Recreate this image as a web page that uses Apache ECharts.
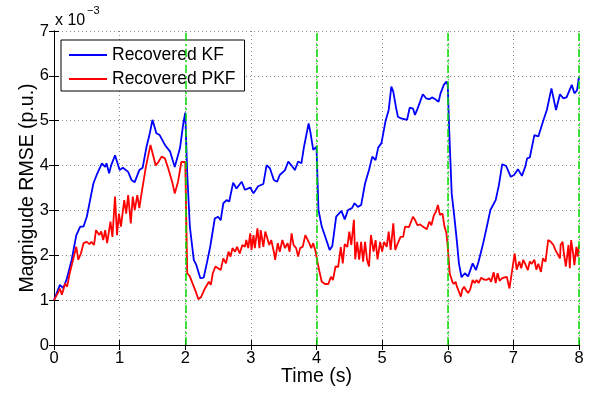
<!DOCTYPE html>
<html>
<head>
<meta charset="utf-8">
<script src="https://cdn.jsdelivr.net/npm/echarts@6/dist/echarts.min.js"></script>
<style>
  html, body { margin: 0; padding: 0; background: #fff; }
  #chart { width: 595px; height: 393px; }
</style>
</head>
<body>
<div id="chart"></div>
<script>
// values in units of 1e-3 p.u., [time (s), rmse]
var kfData = [
  [0,1.0],[0.09,1.34],[0.14,1.27],[0.19,1.45],[0.27,1.9],[0.34,2.45],[0.40,2.64],[0.45,2.64],[0.50,2.86],[0.55,3.23],
  [0.60,3.6],[0.65,3.79],[0.73,4.05],[0.78,3.97],[0.80,4.05],[0.84,3.83],[0.87,4.0],[0.93,4.23],[1.0,3.9],[1.05,3.95],
  [1.13,3.86],[1.18,3.68],[1.23,3.63],[1.26,3.65],[1.30,3.9],[1.35,3.95],[1.41,4.42],[1.46,4.72],[1.50,5.02],[1.56,4.72],
  [1.61,4.68],[1.69,4.46],[1.77,4.31],[1.84,3.97],[1.92,4.39],[1.97,4.94],[2.0,5.18],
  [2.03,3.83],[2.07,2.64],[2.13,1.9],[2.17,1.78],[2.23,1.49],[2.28,1.5],[2.33,1.83],[2.38,2.19],[2.41,2.23],[2.45,2.82],
  [2.50,2.86],[2.54,2.78],[2.58,3.16],[2.63,3.23],[2.67,3.2],[2.73,3.62],[2.78,3.49],[2.86,3.64],[2.91,3.46],[2.99,3.51],
  [3.04,3.38],[3.11,3.54],[3.19,3.59],[3.24,4.01],[3.29,3.94],[3.35,3.68],[3.40,3.64],[3.44,3.79],[3.52,3.9],[3.57,4.09],
  [3.62,4.0],[3.67,3.9],[3.72,4.09],[3.77,4.05],[3.81,4.42],[3.88,4.94],[3.91,4.72],[3.95,4.35],[4.0,4.42],
  [4.03,3.01],[4.08,2.64],[4.15,2.34],[4.20,2.12],[4.24,2.2],[4.30,2.86],[4.38,2.99],[4.43,2.8],[4.48,3.01],[4.54,3.05],
  [4.58,3.16],[4.63,3.08],[4.68,3.12],[4.74,3.6],[4.80,3.9],[4.85,4.2],[4.90,4.12],[4.94,4.4],[4.99,4.5],[5.05,4.98],
  [5.10,5.24],[5.14,5.76],[5.17,5.65],[5.21,5.31],[5.24,5.09],[5.29,5.05],[5.38,5.02],[5.42,5.29],[5.47,5.27],[5.50,5.13],
  [5.54,5.27],[5.57,5.31],[5.62,5.59],[5.67,5.5],[5.72,5.48],[5.76,5.52],[5.81,5.48],[5.86,5.42],[5.89,5.61],[5.94,5.8],
  [5.98,5.87],[6.0,5.8],
  [6.02,4.87],[6.06,3.38],[6.10,2.86],[6.14,2.3],[6.17,1.82],[6.21,1.51],[6.26,1.6],[6.31,1.53],[6.38,1.82],[6.43,1.67],
  [6.47,1.86],[6.54,2.27],[6.59,2.6],[6.65,3.01],[6.73,3.23],[6.78,3.57],[6.83,4.03],[6.89,3.99],[6.96,3.75],[7.01,3.79],
  [7.07,3.92],[7.13,3.77],[7.18,3.97],[7.21,4.16],[7.25,4.18],[7.32,4.68],[7.38,4.65],[7.46,5.02],[7.51,5.24],[7.58,5.72],
  [7.65,5.24],[7.71,5.59],[7.76,5.5],[7.81,5.52],[7.84,5.52],[7.89,5.8],[7.93,5.61],[7.97,5.68],[8.0,5.98]
];

var pkfData = [
  [0,1.0],[0.07,1.19],[0.09,1.26],[0.12,1.12],[0.17,1.37],[0.20,1.3],[0.24,1.6],[0.29,1.9],[0.34,2.19],[0.37,1.9],
  [0.41,2.04],[0.45,2.27],[0.50,2.3],[0.54,2.25],[0.57,2.3],[0.61,2.23],[0.64,2.56],[0.69,2.45],[0.72,2.53],[0.75,2.34],
  [0.78,2.56],[0.81,2.27],[0.86,2.75],[0.89,2.41],[0.93,3.31],[0.96,2.45],[0.99,2.93],[1.02,2.64],[1.07,3.23],[1.10,2.93],
  [1.13,3.34],[1.17,2.71],[1.20,3.31],[1.23,3.01],[1.27,3.34],[1.30,3.05],[1.33,3.34],[1.36,3.38],[1.40,3.97],[1.43,3.97],
  [1.47,4.46],[1.51,4.23],[1.55,4.0],[1.59,4.08],[1.64,4.2],[1.69,4.16],[1.74,3.94],[1.77,3.97],[1.80,3.64],[1.84,3.38],
  [1.89,3.64],[1.94,4.08],[1.97,4.12],[2.0,4.08],
  [2.03,1.6],[2.07,1.53],[2.12,1.34],[2.16,1.19],[2.20,1.02],[2.24,1.07],[2.27,1.06],[2.30,1.26],[2.33,1.22],[2.36,1.41],
  [2.39,1.34],[2.42,1.6],[2.46,1.75],[2.50,1.71],[2.54,1.67],[2.58,1.93],[2.62,1.82],[2.66,2.08],[2.69,1.97],[2.72,2.16],
  [2.76,2.08],[2.79,2.19],[2.83,2.04],[2.87,2.23],[2.91,2.19],[2.93,2.34],[2.96,2.16],[2.99,2.49],[3.01,2.12],[3.04,2.45],
  [3.06,2.16],[3.10,2.6],[3.13,2.16],[3.15,2.56],[3.19,2.19],[3.22,2.53],[3.25,2.38],[3.28,2.23],[3.31,2.34],[3.35,2.08],
  [3.37,1.9],[3.41,2.27],[3.44,2.08],[3.48,2.34],[3.52,2.16],[3.56,2.27],[3.59,2.08],[3.62,2.49],[3.65,2.23],[3.69,2.16],
  [3.72,1.97],[3.75,2.16],[3.79,2.19],[3.83,2.45],[3.85,2.49],[3.89,2.27],[3.92,2.16],[3.95,2.27],[3.98,2.12],[4.0,1.97],
  [4.04,1.67],[4.08,1.41],[4.13,1.36],[4.18,1.36],[4.22,1.52],[4.25,1.45],[4.29,1.75],[4.33,1.74],[4.37,2.18],[4.40,1.82],
  [4.43,2.25],[4.47,2.19],[4.50,2.53],[4.53,2.23],[4.57,2.79],[4.59,1.91],[4.62,2.3],[4.65,1.9],[4.68,2.3],[4.71,1.86],
  [4.74,2.3],[4.77,1.9],[4.80,1.75],[4.83,2.45],[4.87,2.08],[4.90,2.34],[4.93,1.91],[4.97,2.3],[5.0,2.08],[5.03,2.3],
  [5.07,2.19],[5.10,2.53],[5.13,2.12],[5.17,2.71],[5.20,2.12],[5.24,2.27],[5.28,2.41],[5.32,2.41],[5.35,2.64],[5.38,2.6],
  [5.41,2.63],[5.47,2.86],[5.50,2.79],[5.54,2.67],[5.58,2.69],[5.62,2.64],[5.64,2.67],[5.68,2.58],[5.72,2.75],[5.75,2.67],
  [5.79,2.9],[5.82,2.97],[5.85,3.12],[5.88,2.9],[5.92,2.93],[5.95,2.64],[5.98,2.49],[6.0,2.19],
  [6.03,1.6],[6.07,1.41],[6.09,1.36],[6.12,1.41],[6.14,1.3],[6.17,1.33],[6.20,1.08],[6.22,1.23],[6.25,1.3],[6.27,1.24],
  [6.31,1.16],[6.34,1.23],[6.38,1.45],[6.41,1.38],[6.44,1.45],[6.47,1.38],[6.51,1.5],[6.55,1.46],[6.59,1.45],[6.63,1.49],
  [6.66,1.41],[6.70,1.62],[6.73,1.38],[6.76,1.6],[6.79,1.43],[6.83,1.49],[6.86,1.45],[6.90,1.52],[6.94,1.26],[6.98,1.65],
  [7.02,2.04],[7.05,1.68],[7.09,1.86],[7.12,1.71],[7.15,1.9],[7.18,1.81],[7.22,1.67],[7.25,1.86],[7.28,1.81],[7.32,1.9],
  [7.35,1.68],[7.38,1.81],[7.42,1.63],[7.45,1.93],[7.49,1.86],[7.53,2.34],[7.57,2.3],[7.61,2.23],[7.64,2.12],[7.67,2.04],
  [7.71,1.93],[7.72,2.23],[7.75,2.3],[7.77,2.04],[7.80,1.75],[7.84,2.23],[7.86,1.71],[7.88,2.34],[7.91,2.04],[7.93,1.78],
  [7.96,2.19],[7.98,1.97],[8.0,2.23]
];

var switchTimes = [2, 4, 6, 8];
var seriesNames = ['Recovered KF', 'Recovered PKF'];

var FONT = '"Liberation Sans", Arial, Helvetica, sans-serif';

var chart = echarts.init(document.getElementById('chart'));

var gridLine = { show: true, lineStyle: { color: '#8a8a8a', type: [1, 3], width: 1 } };
var boxLine = { show: true, lineStyle: { color: '#000', width: 1 } };
var inTick = { show: true, inside: true, length: 5, lineStyle: { color: '#000' } };

chart.setOption({
  animation: false,
  backgroundColor: '#fff',
  textStyle: { fontFamily: FONT },
  grid: { left: 54, right: 16, top: 31, bottom: 48, outerBoundsMode: 'none', containLabel: false },
  legend: {
    data: seriesNames,
    orient: 'vertical',
    left: 61,
    top: 40,
    itemWidth: 38,
    itemHeight: 14,
    itemGap: 6,
    padding: [6, 9, 3, 7],
    borderColor: '#000',
    borderWidth: 1,
    backgroundColor: '#fff',
    itemStyle: { opacity: 0 },
    textStyle: { fontSize: 17.5, color: '#000', fontFamily: FONT }
  },
  graphic: [
    { type: 'text', left: 55, top: 13, style: { text: 'x 10', font: '16px ' + FONT, fill: '#000' } },
    { type: 'text', left: 87, top: 5, style: { text: '\u22123', font: '11px ' + FONT, fill: '#000' } }
  ],
  xAxis: [{
    type: 'value', min: 0, max: 8, interval: 1,
    name: 'Time (s)', nameLocation: 'middle', nameGap: 22, nameMoveOverlap: false,
    nameTextStyle: { fontSize: 19.5, color: '#000' },
    axisLine: boxLine,
    axisTick: inTick,
    axisLabel: { fontSize: 16.5, color: '#000', margin: 5 },
    splitLine: gridLine
  }, {
    type: 'value', min: 0, max: 8, interval: 1, position: 'top',
    axisLine: boxLine,
    axisTick: inTick,
    axisLabel: { show: false },
    splitLine: { show: false }
  }],
  yAxis: [{
    type: 'value', min: 0, max: 7, interval: 1,
    name: 'Magnigude RMSE (p.u.)', nameLocation: 'middle', nameGap: 16, nameMoveOverlap: false,
    nameTextStyle: { fontSize: 19.5, color: '#000' },
    axisLine: boxLine,
    axisTick: inTick,
    axisLabel: { fontSize: 16.5, color: '#000', margin: 5 },
    splitLine: gridLine
  }, {
    type: 'value', min: 0, max: 7, interval: 1, position: 'right',
    axisLine: boxLine,
    axisTick: inTick,
    axisLabel: { show: false },
    splitLine: { show: false }
  }],
  series: [
    {
      name: 'switch',
      type: 'line',
      data: [],
      silent: true,
      markLine: {
        silent: true,
        symbol: 'none',
        label: { show: false },
        lineStyle: { color: '#00e000', type: [8, 3, 2, 3], width: 1.5 },
        data: switchTimes.map(function (t) { return { xAxis: t }; })
      }
    },
    {
      name: seriesNames[0],
      type: 'line',
      data: kfData,
      symbol: 'none',
      lineStyle: { color: '#0000ff', width: 1.8 },
      itemStyle: { color: '#0000ff' }
    },
    {
      name: seriesNames[1],
      type: 'line',
      data: pkfData,
      symbol: 'none',
      lineStyle: { color: '#ff0000', width: 1.8 },
      itemStyle: { color: '#ff0000' }
    }
  ]
});
</script>
</body>
</html>
